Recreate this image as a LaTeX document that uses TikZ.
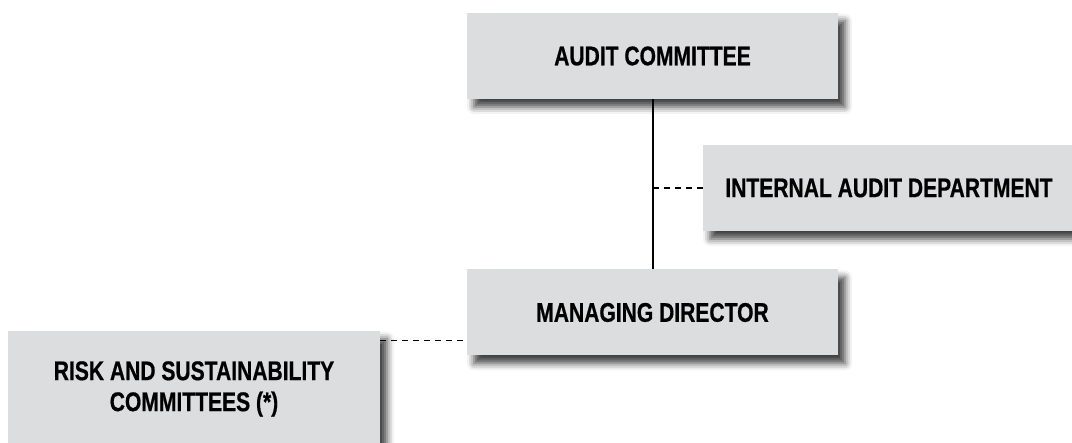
\documentclass[tikz,border=0pt]{standalone}
\usepackage{fontspec}
\setmainfont{Liberation Sans}[FakeStretch=0.78, BoldFeatures={FakeBold=0.6}]
\usetikzlibrary{positioning, calc, shadows.blur}
\definecolor{boxgray}{HTML}{DCDDDF}

\begin{document}
\begin{tikzpicture}[x=0.5pt, y=0.5pt,
    font=\bfseries\fontsize{13.5}{15.5}\selectfont,
    unit/.style={fill=boxgray, align=center, inner sep=0pt,
      minimum width=185.5pt, minimum height=43pt,
      blur shadow={shadow xshift=3.5pt, shadow yshift=-4pt,
        shadow blur radius=3.5pt, shadow opacity=75}},
    link/.style={line width=1pt},
    dotlink/.style={line width=0.9pt, dash pattern=on 3pt off 2.5pt}]
  \useasboundingbox (0,0) rectangle (1072,443);
  \clip (0,0) rectangle (1072,443);
  % boxes
  \node[unit] (audit) at (652.5,387) {AUDIT COMMITTEE};
  \node[unit, minimum width=186pt] (internal) at (889,255) {INTERNAL AUDIT DEPARTMENT};
  \node[unit] (md) at (652.5,130.5) {MANAGING DIRECTOR};
  \node[unit, minimum width=186pt, minimum height=58pt] (rsc) at (194,54)
    {RISK AND SUSTAINABILITY\\ COMMITTEES (*)};
  % reporting lines
  \draw[link] (audit) -- (md);
  \draw[dotlink] (audit.south |- internal.west) -- (internal.west);
  \coordinate (rsclink) at ($(rsc.north east)+(0,-10)$);
  \draw[dotlink] (rsclink) -- (rsclink -| md.west);
\end{tikzpicture}
\end{document}
